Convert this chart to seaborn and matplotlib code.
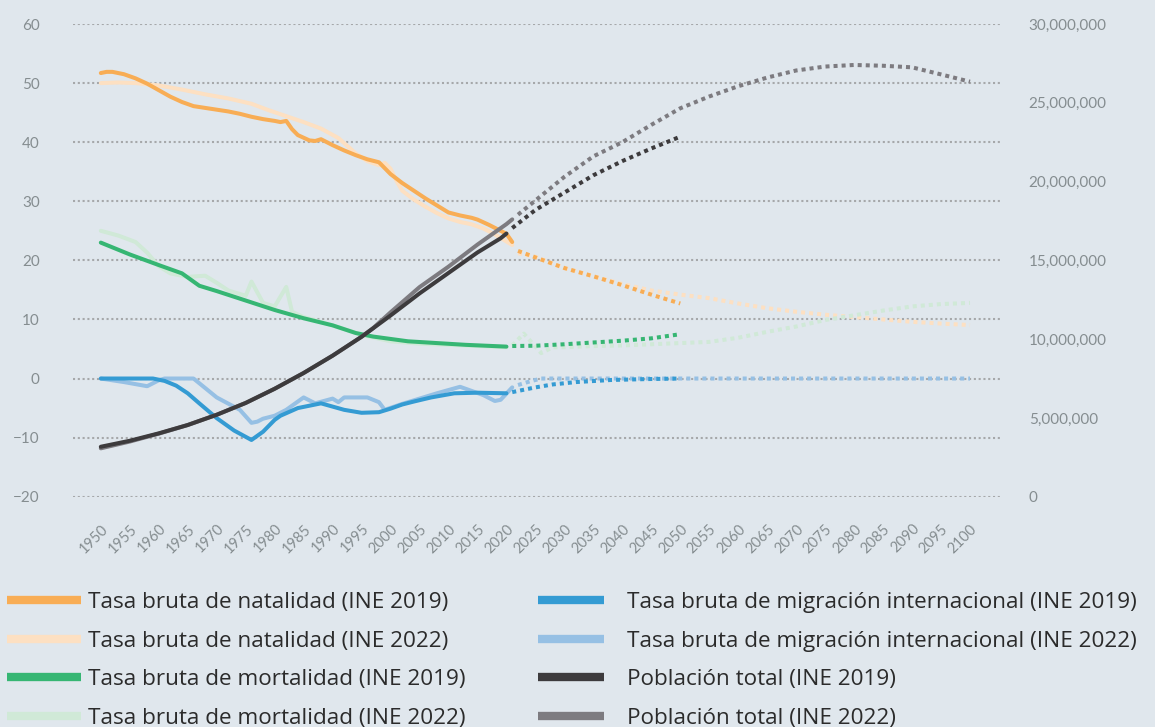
import numpy as np
import pandas as pd
import matplotlib
matplotlib.use("Agg")
import matplotlib.pyplot as plt
from matplotlib.lines import Line2D
from matplotlib.ticker import FuncFormatter
import seaborn as sns

# ---- data ----
# Tasa bruta de natalidad
nat19_years = [1950, 1951, 1952, 1954, 1956, 1958, 1960, 1962, 1964, 1966, 1968, 1970, 1972, 1974,
               1976, 1978, 1980, 1981, 1982, 1983, 1984, 1986, 1987, 1988, 1990, 1992, 1994, 1996,
               1998, 2000, 2002, 2004, 2006, 2008, 2010, 2012, 2014, 2015, 2017, 2019, 2020, 2021]
nat19_vals = [51.7, 51.9, 51.9, 51.5, 50.8, 49.9, 48.8, 47.7, 46.8, 46.1, 45.8, 45.5, 45.2, 44.8,
              44.3, 43.9, 43.6, 43.4, 43.6, 42.2, 41.2, 40.3, 40.2, 40.5, 39.5, 38.6, 37.8, 37.1,
              36.6, 34.6, 33.1, 31.8, 30.5, 29.3, 28.1, 27.6, 27.2, 26.9, 26.0, 25.0, 24.5, 23.1]
nat19_proj_years = [2022, 2025, 2030, 2035, 2040, 2045, 2050]
nat19_proj_vals = [21.6, 20.5, 18.7, 17.3, 15.8, 14.2, 12.7]

nat22_years = [1950, 1953, 1956, 1960, 1964, 1968, 1972, 1976, 1979, 1982, 1985, 1988, 1991, 1994,
               1996, 1998, 1999, 2000, 2001, 2002, 2004, 2006, 2008, 2010, 2012, 2014, 2016, 2018,
               2020, 2021]
nat22_vals = [50.0, 50.1, 50.0, 49.6, 48.9, 48.1, 47.4, 46.5, 45.4, 44.4, 43.4, 42.3, 40.7, 38.1,
              36.8, 36.1, 36.5, 35.5, 33.5, 31.8, 30.3, 29.1, 28.0, 27.1, 26.5, 26.1, 25.4, 24.4,
              23.2, 22.6]
nat22_proj_years = [2022, 2025, 2030, 2035, 2040, 2045, 2050, 2055, 2060, 2065, 2070, 2075, 2080,
                    2085, 2090, 2095, 2100]
nat22_proj_vals = [21.2, 20.6, 18.7, 17.3, 16.0, 14.9, 14.2, 13.6, 12.7, 11.9, 11.3, 10.8, 10.4,
                   10.0, 9.6, 9.3, 9.05]

# Tasa bruta de mortalidad
mor19_years = [1950, 1955, 1960, 1964, 1967, 1970, 1975, 1980, 1985, 1990, 1994, 1997, 2000, 2003,
               2008, 2013, 2020]
mor19_vals = [23.0, 21.0, 19.2, 17.8, 15.7, 14.8, 13.2, 11.6, 10.2, 9.0, 7.7, 7.1, 6.7, 6.3,
              6.0, 5.7, 5.4]
mor19_proj_years = [2021, 2025, 2030, 2035, 2040, 2045, 2050]
mor19_proj_vals = [5.5, 5.55, 5.8, 6.1, 6.4, 6.8, 7.5]

mor22_years = [1950, 1953, 1956, 1958, 1960, 1962, 1965, 1968, 1970, 1972, 1975, 1976, 1978, 1980,
               1982, 1983, 1985, 1990, 1995, 2000, 2005, 2010, 2015, 2020]
mor22_vals = [25.0, 24.2, 23.1, 21.3, 19.0, 17.8, 17.2, 17.4, 16.2, 14.9, 14.0, 16.4, 12.8, 12.2,
              15.5, 11.3, 10.4, 9.0, 7.4, 6.3, 5.9, 5.7, 5.5, 5.3]
mor22_proj_years = [2021, 2023, 2026, 2028, 2030, 2035, 2040, 2045, 2050, 2055, 2060, 2065, 2070,
                    2075, 2080, 2085, 2090, 2095, 2100]
mor22_proj_vals = [5.6, 7.6, 4.3, 5.3, 5.3, 5.5, 5.6, 5.8, 6.0, 6.2, 6.9, 7.9, 8.8, 9.9, 10.7,
                   11.5, 12.2, 12.6, 12.8]

# Tasa bruta de migración internacional
mig19_years = [1950, 1955, 1959, 1961, 1963, 1965, 1967, 1970, 1973, 1976, 1978, 1980, 1981, 1984,
               1988, 1992, 1995, 1998, 2000, 2002, 2004, 2007, 2011, 2015, 2020]
mig19_vals = [0, 0, 0, -0.4, -1.2, -2.5, -4.2, -6.7, -8.8, -10.4, -9.0, -7.0, -6.3, -5.0,
              -4.2, -5.3, -5.8, -5.7, -5.1, -4.4, -3.9, -3.2, -2.5, -2.4, -2.5]
mig19_proj_years = [2021, 2023, 2025, 2028, 2032, 2038, 2044, 2050]
mig19_proj_vals = [-2.3, -1.9, -1.5, -1.0, -0.6, -0.25, -0.1, 0]

mig22_years = [1950, 1954, 1958, 1960, 1961, 1966, 1970, 1974, 1976, 1977, 1978, 1980, 1982, 1985,
               1987, 1990, 1991, 1992, 1996, 1998, 1999, 2002, 2005, 2008, 2012, 2016, 2018, 2019,
               2021]
mig22_vals = [0, -0.6, -1.3, -0.3, 0, 0, -3.2, -5.3, -7.5, -7.3, -6.8, -6.3, -5.3, -3.2,
              -4.2, -3.4, -4.0, -3.2, -3.2, -4.0, -5.3, -4.3, -3.4, -2.5, -1.4, -2.8, -3.8, -3.6,
              -1.5]
mig22_proj_years = [2022, 2024, 2026, 2050, 2075, 2100]
mig22_proj_vals = [-1.1, -0.5, 0, 0, 0, 0]

# Población total (eje derecho)
pob19_years = [1950, 1955, 1960, 1965, 1970, 1975, 1980, 1985, 1990, 1995, 2000, 2005, 2010,
               2015, 2019, 2020]
pob19_vals = [3.17e6, 3.55e6, 4.02e6, 4.55e6, 5.2e6, 5.95e6, 6.85e6, 7.85e6, 8.95e6, 10.15e6,
              11.5e6, 12.9e6, 14.2e6, 15.5e6, 16.4e6, 16.7e6]
pob19_proj_years = [2021, 2025, 2030, 2035, 2040, 2045, 2050]
pob19_proj_vals = [17.05e6, 18.2e6, 19.3e6, 20.4e6, 21.3e6, 22.1e6, 22.85e6]

pob22_years = [1950, 1955, 1960, 1965, 1970, 1975, 1980, 1985, 1990, 1995, 1997, 2000, 2005,
               2010, 2015, 2020, 2021]
pob22_vals = [3.07e6, 3.5e6, 4.0e6, 4.55e6, 5.2e6, 5.95e6, 6.85e6, 7.85e6, 8.95e6, 10.15e6,
              10.7e6, 11.7e6, 13.3e6, 14.6e6, 16.0e6, 17.3e6, 17.6e6]
pob22_proj_years = [2022, 2025, 2030, 2035, 2040, 2045, 2050, 2055, 2060, 2065, 2070, 2075, 2080,
                    2085, 2090, 2095, 2100]
pob22_proj_vals = [17.9e6, 18.8e6, 20.3e6, 21.6e6, 22.5e6, 23.6e6, 24.65e6, 25.4e6, 26.05e6,
                   26.6e6, 27.05e6, 27.3e6, 27.4e6, 27.35e6, 27.25e6, 26.8e6, 26.34e6]

labels = ["Tasa bruta de natalidad (INE 2019)", "Tasa bruta de natalidad (INE 2022)",
          "Tasa bruta de mortalidad (INE 2019)", "Tasa bruta de mortalidad (INE 2022)",
          "Tasa bruta de migración internacional (INE 2019)",
          "Tasa bruta de migración internacional (INE 2022)",
          "Población total (INE 2019)", "Población total (INE 2022)"]
colors = ["#f8ad55", "#fde0c2", "#36b673", "#d0e9d7", "#349bd3", "#96c0e4", "#3d3b3d", "#7d7b80"]

bg = "#e0e7ed"
tick_col = "#858d90"

sns.set_theme(style="white")
plt.rcParams["font.family"] = ["Lato", "DejaVu Sans"]

fig = plt.figure(figsize=(11.55, 7.27), dpi=100, facecolor=bg)
ax = fig.add_axes([73 / 1155, 1 - 496.7 / 727, (1001 - 73) / 1155, (496.7 - 24) / 727])
ax.set_facecolor(bg)

lw = 2.9
dot = (0, (1, 1))

rates = [
    (nat22_years, nat22_vals, nat22_proj_years, nat22_proj_vals, colors[1]),
    (nat19_years, nat19_vals, nat19_proj_years, nat19_proj_vals, colors[0]),
    (mor22_years, mor22_vals, mor22_proj_years, mor22_proj_vals, colors[3]),
    (mor19_years, mor19_vals, mor19_proj_years, mor19_proj_vals, colors[2]),
    (mig22_years, mig22_vals, mig22_proj_years, mig22_proj_vals, colors[5]),
    (mig19_years, mig19_vals, mig19_proj_years, mig19_proj_vals, colors[4]),
]
for yrs, vals, pyrs, pvals, c in rates:
    sns.lineplot(x=yrs, y=vals, ax=ax, color=c, lw=lw, solid_joinstyle="round")
    sns.lineplot(x=pyrs, y=pvals, ax=ax, color=c, lw=lw, linestyle=dot)

ax.set_xlim(1945.2, 2105.35)
ax.set_ylim(-20, 60)
ax.set_yticks(range(-20, 61, 10))
ax.set_xticks(range(1950, 2101, 5))
ax.set_xticklabels([str(y) for y in range(1950, 2101, 5)], rotation=45, ha="right",
                   va="top", rotation_mode="anchor")
ax.grid(axis="y", color="#a6a8aa", lw=1.5, linestyle=(0, (1, 1.3)))
ax.set_axisbelow(True)
ax.tick_params(axis="y", length=0, pad=24, labelsize=11, labelcolor=tick_col)
ax.tick_params(axis="x", length=0, pad=18, labelsize=10.5, labelcolor=tick_col)
for s in ax.spines.values():
    s.set_visible(False)

ax2 = ax.twinx()
sns.lineplot(x=pob22_years, y=pob22_vals, ax=ax2, color=colors[7], lw=lw)
sns.lineplot(x=pob22_proj_years, y=pob22_proj_vals, ax=ax2, color=colors[7], lw=lw, linestyle=dot)
sns.lineplot(x=pob19_years, y=pob19_vals, ax=ax2, color=colors[6], lw=lw)
sns.lineplot(x=pob19_proj_years, y=pob19_proj_vals, ax=ax2, color=colors[6], lw=lw, linestyle=dot)
ax2.set_ylim(0, 30e6)
ax2.set_yticks(np.arange(0, 30e6 + 1, 5e6))
ax2.yaxis.set_major_formatter(FuncFormatter(lambda v, p: f"{v:,.0f}"))
ax2.tick_params(axis="y", length=0, pad=20, labelsize=11, labelcolor=tick_col)
ax2.grid(False)
for s in ax2.spines.values():
    s.set_visible(False)
ax.set_xlabel("")
ax.set_ylabel("")
ax2.set_ylabel("")

# legend in two columns under the chart
handles = [Line2D([0], [0], color=c, lw=6, solid_capstyle="butt") for c in colors]
leg_kw = dict(frameon=False, prop={"family": "Open Sans", "size": 16.2}, labelcolor="#2b2b2b",
              borderpad=0, borderaxespad=0, labelspacing=0.78, loc="upper left")
fig.legend(handles[:4], labels[:4], bbox_to_anchor=(7 / 1155, 1 - 592 / 727),
           handlelength=3.3, handletextpad=0.3, **leg_kw)
fig.legend(handles[4:], labels[4:], bbox_to_anchor=(538 / 1155, 1 - 592 / 727),
           handlelength=2.95, handletextpad=1.0, **leg_kw)

fig.savefig("out.png", dpi=100, facecolor=bg)
